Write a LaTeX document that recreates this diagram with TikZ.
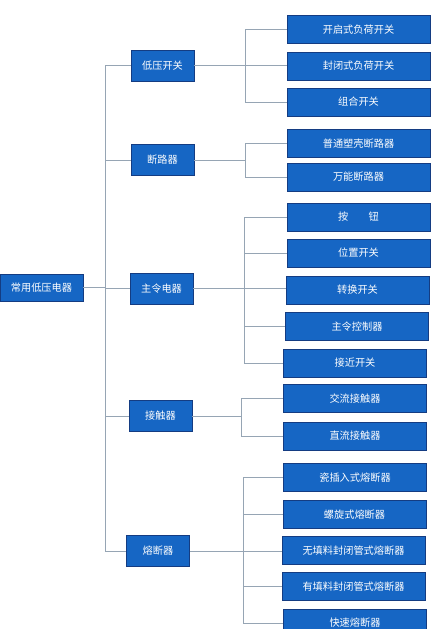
\documentclass[tikz,border=0pt]{standalone}
\usepackage{fontspec}
\newfontfamily\cjk{Noto Sans CJK SC}
\definecolor{boxblue}{RGB}{22,102,196}
\definecolor{boxedge}{RGB}{20,60,130}
\definecolor{linegray}{RGB}{150,165,180}
\begin{document}
\begin{tikzpicture}[x=1pt,y=-1pt,
  box/.style={draw=boxedge,fill=boxblue,text=white,line width=0.8pt,inner sep=0pt,
    font=\cjk\fontsize{10.2}{12}\selectfont},
  lone/.style={box,minimum width=63pt,minimum height=31pt},
  leaf/.style={box,minimum width=143pt,minimum height=28pt},
  conn/.style={draw=linegray,line width=0.9pt}]
\useasboundingbox (0,0) rectangle (434,629);
\clip (0,0) rectangle (434,629);
% root and level 1
\node[box,minimum width=83pt,minimum height=27pt] (root) at (41.5,287.5) {常用低压电器};
\node[lone] (L1) at (162.5,65.5) {低压开关};
\node[lone] (L2) at (162.5,160) {断路器};
\node[lone] (L3) at (161.5,288.5) {主令电器};
\node[lone] (L4) at (160.5,416) {接触器};
\node[lone] (L5) at (158,551) {熔断器};
% leaves
\node[leaf] (c11) at (358.5,29.5) {开启式负荷开关};
\node[leaf] (c12) at (358.5,66) {封闭式负荷开关};
\node[leaf] (c13) at (358.5,102) {组合开关};
\node[leaf] (c21) at (358.5,143.5) {普通塑壳断路器};
\node[leaf] (c22) at (358.5,177) {万能断路器};
\node[leaf] (c31) at (358.5,217) {按\hspace{2em}钮};
\node[leaf] (c32) at (358.5,253) {位置开关};
\node[leaf] (c33) at (357.5,290) {转换开关};
\node[leaf] (c34) at (357,326.5) {主令控制器};
\node[leaf] (c35) at (355,363) {接近开关};
\node[leaf] (c41) at (355,398.5) {交流接触器};
\node[leaf] (c42) at (355,436) {直流接触器};
\node[leaf] (c51) at (355,477.5) {瓷插入式熔断器};
\node[leaf] (c52) at (354.5,514.5) {螺旋式熔断器};
\node[leaf] (c53) at (353.5,550.5) {无填料封闭管式熔断器};
\node[leaf] (c54) at (353.5,586.5) {有填料封闭管式熔断器};
\node[leaf] (c55) at (355,623) {快速熔断器};
% trunk
\coordinate (T) at (105,0);
\draw[conn] (L1.west -| T) -- (L5.west -| T);
\foreach \n in {L1,L2,L3,L4,L5} \draw[conn] (\n.west -| T) -- (\n.west);
\draw[conn] (root.east) -- (root.east -| T);
% group 1
\coordinate (G1) at (245,0);
\draw[conn] (L1.east) -- (L1.east -| c12.west);
\draw[conn] (c11.west -| G1) -- (c13.west -| G1);
\foreach \n in {c11,c13} \draw[conn] (\n.west -| G1) -- (\n.west);
% group 2
\draw[conn] (L2.east) -- (L2.east -| G1);
\draw[conn] (c21.west -| G1) -- (c22.west -| G1);
\foreach \n in {c21,c22} \draw[conn] (\n.west -| G1) -- (\n.west);
% group 3
\coordinate (G3) at (244,0);
\draw[conn] (L3.east) -- (L3.east -| c33.west);
\draw[conn] (c31.west -| G3) -- (c35.west -| G3);
\foreach \n in {c31,c32,c34,c35} \draw[conn] (\n.west -| G3) -- (\n.west);
% group 4
\coordinate (G4) at (241,0);
\draw[conn] (L4.east) -- (L4.east -| G4);
\draw[conn] (c41.west -| G4) -- (c42.west -| G4);
\foreach \n in {c41,c42} \draw[conn] (\n.west -| G4) -- (\n.west);
% group 5
\coordinate (G5) at (243,0);
\draw[conn] (L5.east) -- (L5.east -| c53.west);
\draw[conn] (c51.west -| G5) -- (c55.west -| G5);
\foreach \n in {c51,c52,c54,c55} \draw[conn] (\n.west -| G5) -- (\n.west);
\end{tikzpicture}
\end{document}
